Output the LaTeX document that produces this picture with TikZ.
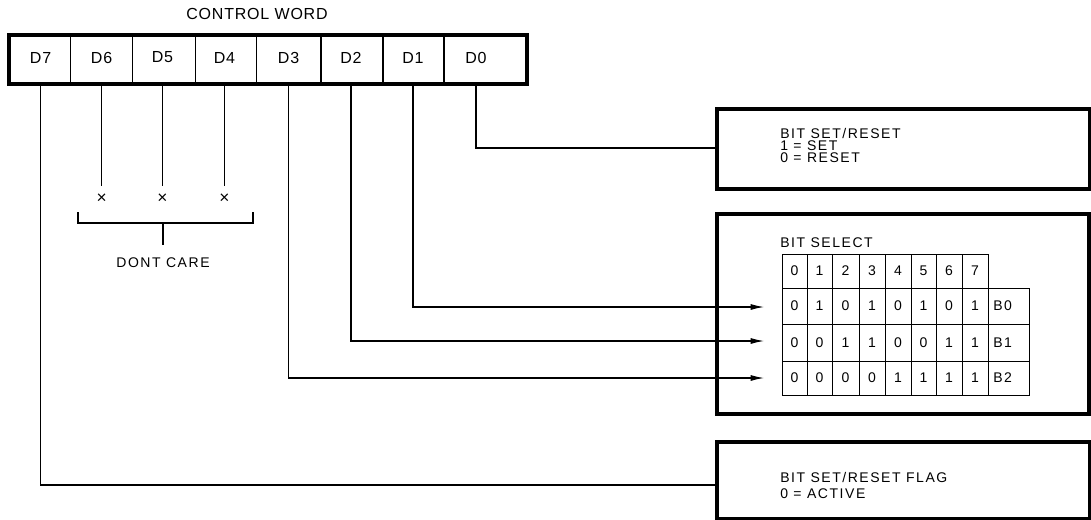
\documentclass[tikz,border=0pt]{standalone}
\usepackage{fontspec}
\setmainfont{Liberation Sans}
\newfontfamily\lblfont[LetterSpace=11]{Liberation Sans}
\newfontfamily\cwfont[LetterSpace=5]{Liberation Sans}
\usetikzlibrary{arrows.meta}
\begin{document}
\begin{tikzpicture}[x=0.75pt,y=-0.75pt,
  lbl/.style={font=\lblfont\fontsize{10.5}{12}\selectfont, inner sep=0pt},
  cwl/.style={font=\cwfont\fontsize{12}{14}\selectfont, inner sep=0pt},
  xmark/.style={font=\fontsize{13}{14}\selectfont, inner sep=0pt},
  conn/.style={line width=0.8pt},
  thickbox/.style={draw, line width=3pt, inner sep=0pt, anchor=north west},
  arr/.style={conn, -{Latex[length=10pt,width=4.5pt]}},
  grid/.style={line width=0.7pt}
]
\useasboundingbox (0,0) rectangle (1091,519);

% control word
\node[cwl] (title) at (257,14) {CONTROL WORD};
\node[thickbox, minimum width=388.5pt, minimum height=36.75pt] (cw) at (7,33) {};
\foreach \x in {70.6,132.6,195.6,256.5,321,383,444} \draw[conn] (\x,33) -- (\x,82);
\node[cwl] (d7) at (40.6,57.5) {D7};
\node[cwl] (d6) at (101.6,57.5) {D6};
\node[cwl] (d5) at (162.5,57.5) {D5};
\node[cwl] (d4) at (224.5,57.5) {D4};
\node[cwl] (d3) at (288.6,57.5) {D3};
\node[cwl] (d2) at (351,57.5) {D2};
\node[cwl] (d1) at (413,57.5) {D1};
\node[cwl] (d0) at (476,57.5) {D0};

% boxes
\node[thickbox, minimum width=279.75pt, minimum height=60pt] (b1) at (715,107) {};
\node[thickbox, minimum width=279pt, minimum height=150pt] (b2) at (715,212) {};
\node[thickbox, minimum width=279.75pt, minimum height=57.75pt] (b3) at (715,440) {};

\node[lbl, anchor=base west] (t1) at (780,138)
  {\vtop{\baselineskip=9.2pt\hbox{BIT SET/RESET}\hbox{1 = SET}\hbox{0 = RESET}}};
\node[lbl, anchor=base west] (t2) at (780,247) {BIT SELECT};
\node[lbl, anchor=base west] (t3) at (780,482)
  {\vtop{\baselineskip=12pt\hbox{BIT SET/RESET FLAG}\hbox{0 = ACTIVE}}};

% table
\draw[grid] (782,254) rectangle (988,288);
\draw[grid] (782,288) rectangle (1029,395);
\draw[grid] (782,324) -- (1029,324);
\draw[grid] (782,361) -- (1029,361);
\foreach \x in {807,832,859,885,911,936,962} \draw[grid] (\x,254) -- (\x,395);
\draw[grid] (988,288) -- (988,395);
\foreach \c/\l [count=\i from 0] in {794.5/0,819.5/1,845.5/2,872/3,898/4,923.5/5,949/6,975/7}
  \node[lbl] (h\i) at (\c,271) {\l};
\foreach \r/\y/\vals in {0/306/{0,1,0,1,0,1,0,1},1/342.5/{0,0,1,1,0,0,1,1},2/378/{0,0,0,0,1,1,1,1}}{
  \foreach \v [count=\j from 0] in \vals {
    \pgfmathsetmacro{\cx}{{794.5,819.5,845.5,872,898,923.5,949,975}[\j]}
    \node[lbl] (c\r\j) at (\cx,\y) {\v};
  }
  \node[lbl, anchor=west] (bl\r) at (993,\y) {B\r};
}

% coordinates
\coordinate (y0) at (0,148);
\coordinate (y7) at (0,485);
\coordinate (a0) at (764,307);
\coordinate (a1) at (764,341);
\coordinate (a2) at (764,378);

% connectors
\draw[conn] (d0 |- cw.south) |- (b1.west |- y0);
\draw[arr] (d1 |- cw.south) |- (a0);
\draw[arr] (d2 |- cw.south) |- (a1);
\draw[arr] (d3 |- cw.south) |- (a2);
\draw[conn] (d7 |- cw.south) |- (b3.west |- y7);

% don't care
\node[xmark] (x6) at (101.6,199) {×};
\node[xmark] (x5) at (162.5,199) {×};
\node[xmark] (x4) at (224.5,199) {×};
\coordinate (e6) at (101.6,186);
\coordinate (e5) at (162.5,186);
\coordinate (e4) at (224.5,186);
\draw[conn] (d6 |- cw.south) -- (e6);
\draw[conn] (d5 |- cw.south) -- (e5);
\draw[conn] (d4 |- cw.south) -- (e4);
\coordinate (bl) at (78,212);
\coordinate (br) at (253,212);
\coordinate (bm) at (163,223);
\coordinate (bt) at (163,245);
\draw[conn] (bl) -- (bl |- bm) -- (br |- bm) -- (br);
\draw[conn] (bm) -- (bt);
\node[lbl] (dc) at (163,263) {DONT CARE};
\end{tikzpicture}
\end{document}
